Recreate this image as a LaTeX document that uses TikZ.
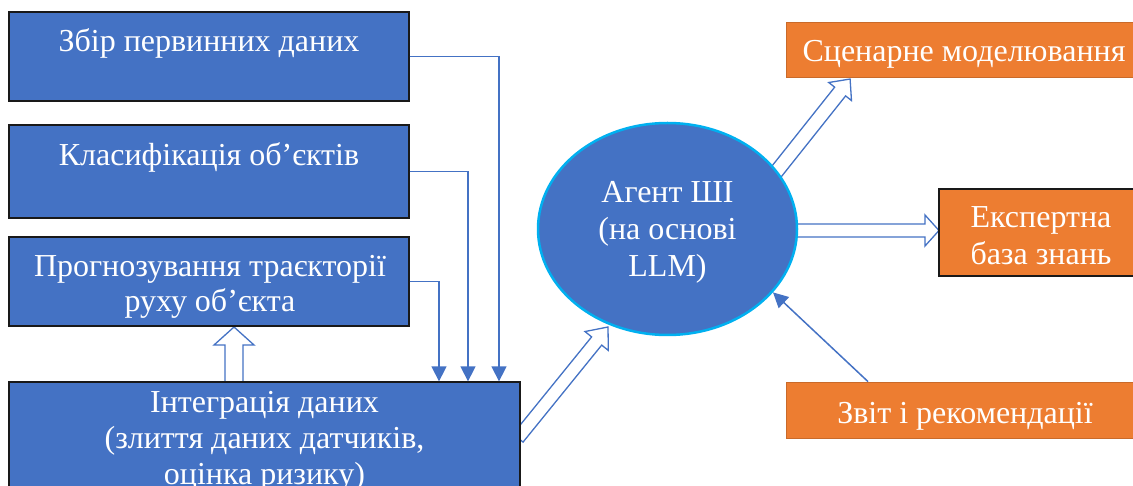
\documentclass[tikz,border=0pt]{standalone}
\usepackage{fontspec}
\setmainfont{Liberation Serif}
\usetikzlibrary{arrows.meta,shapes.geometric,calc}
\definecolor{bluef}{HTML}{4472C4}
\definecolor{orangef}{HTML}{ED7D31}
\definecolor{cyanb}{HTML}{00B0F0}
\tikzset{
  bluebox/.style={draw=black!90, line width=1.3pt, fill=bluef, inner sep=0pt},
  orbox/.style={draw=orangef!85!black, line width=0.8pt, fill=orangef, inner sep=0pt},
  orboxk/.style={draw=black!90, line width=1.3pt, fill=orangef, inner sep=0pt},
  agent/.style={ellipse, draw=cyanb, line width=2.5pt, fill=bluef, inner sep=0pt},
  txt/.style={text=white, anchor=base, inner sep=0pt, font=\fontsize{32}{38}\selectfont},
  conn/.style={draw=bluef, line width=1.5pt, -{Triangle[length=15pt,width=15pt]}},
  hollow/.style={draw=bluef, fill=white, line width=1.3pt, line join=miter}
}
% #1 start coordinate name, #2 angle, #3 length, #4 body half width, #5 head half width, #6 head length
\newcommand\hollowarrow[6]{%
  \draw[hollow, shift={(#1)}, rotate=#2]
    (0,-#4) -- ({#3-#6},-#4) -- ({#3-#6},-#5) -- (#3,0) -- ({#3-#6},#5) -- ({#3-#6},#4) -- (0,#4) -- cycle;}
\begin{document}
\begin{tikzpicture}[x=1pt,y=-1pt]
\useasboundingbox (0,0) rectangle (1133,486);

% block arrows (drawn under the shapes they start in)
\coordinate (aA) at (518,438);
\coordinate (aB) at (765,186);
\coordinate (aC) at (790,230.5);
\coordinate (aD) at (234,382);
\hollowarrow{aA}{50.96}{142.9}{6.5}{15}{18}
\hollowarrow{aB}{51.5}{136.7}{7}{14.5}{16}
\hollowarrow{aC}{0}{149}{6.5}{15.5}{14}
\hollowarrow{aD}{90}{55}{9}{20}{18}

% left boxes
\node[bluebox, minimum width=400pt, minimum height=89pt] (b1) at (209,56.5) {};
\node[bluebox, minimum width=400pt, minimum height=93pt] (b2) at (209,171.5) {};
\node[bluebox, minimum width=400pt, minimum height=89pt] (b3) at (209,281.5) {};
\node[bluebox, minimum width=511pt, minimum height=118pt] (b4) at (264.5,441) {};

% agent ellipse
\node[agent, minimum width=259pt, minimum height=212pt] (el) at (667.5,229) {};

% right boxes
\node[orbox, minimum width=357pt, minimum height=55pt] (sc) at (964.5,49.5) {};
\node[orboxk, minimum width=204pt, minimum height=87pt] (ek) at (1041,232.5) {};
\node[orbox, minimum width=357pt, minimum height=56pt] (zv) at (964.5,410) {};

% texts
\node[txt] (t1) at (209,52) {Збір первинних даних};
\node[txt] (t2) at (209,166) {Класифікація об’єктів};
\node[txt] (t3a) at (210,277) {Прогнозування траєкторії};
\node[txt] (t3b) at (210,312) {руху об’єкта};
\node[txt] (t4a) at (264.5,412) {Інтеграція даних};
\node[txt] (t4b) at (264.5,448) {(злиття даних датчиків,};
\node[txt] (t4c) at (264.5,484) {оцінка ризику)};
\node[txt] (te1) at (667.5,203) {Агент ШІ};
\node[txt] (te2) at (667.5,240) {(на основі};
\node[txt] (te3) at (667.5,277) {LLM)};
\node[txt] (tsc) at (964,62) {Сценарне моделювання};
\node[txt] (tek1) at (1041,228) {Експертна};
\node[txt] (tek2) at (1041,265) {база знань};
\node[txt] (tzv) at (965,423) {Звіт і рекомендації};

% thin connectors
\draw[conn] (b1.east) -| ([xshift=234.5pt]b4.north);
\draw[conn] (b2.east) -| ([xshift=203.5pt]b4.north);
\draw[conn] (b3.east) -| ([xshift=174.5pt]b4.north);
\draw[conn] ([xshift=-96.5pt]zv.north) -- (el.-31.5);
\end{tikzpicture}
\end{document}
